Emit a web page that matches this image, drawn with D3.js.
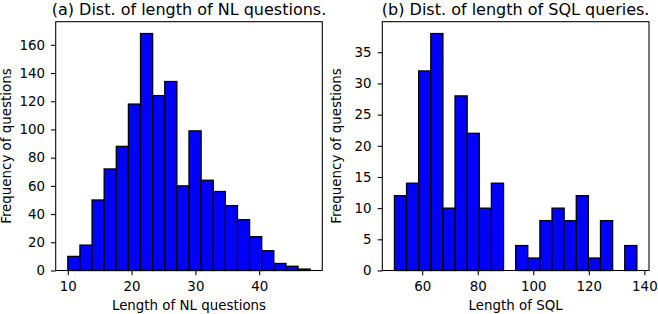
<!DOCTYPE html>
<html>
<head>
<meta charset="utf-8">
<script src="https://cdn.jsdelivr.net/npm/d3@7"></script>
<style>
  html, body { margin: 0; padding: 0; background: #fff; }
  svg { display: block; }
  text { font-family: "DejaVu Sans", sans-serif; fill: #000; }
</style>
</head>
<body>
<svg id="chart" width="658" height="314"></svg>
<script>
// ---- data ----
const nlRange = [10, 48];           // histogram range of NL question lengths
const nlCounts = [10, 18, 50, 72, 88, 118, 168, 124, 134, 60, 99, 64, 56, 46, 36, 24, 14, 5, 3, 1];
const nlXTicks = [10, 20, 30, 40];
const nlYTicks = [0, 20, 40, 60, 80, 100, 120, 140, 160];

const sqlRange = [50, 137.3];       // histogram range of SQL lengths
const sqlCounts = [12, 14, 32, 38, 10, 28, 22, 10, 14, 0, 4, 2, 8, 10, 8, 12, 2, 8, 0, 4];
const sqlXTicks = [60, 80, 100, 120, 140];
const sqlYTicks = [0, 5, 10, 15, 20, 25, 30, 35];

const titles = ["(a) Dist. of length of NL questions.", "(b) Dist. of length of SQL queries."];
const xLabels = ["Length of NL questions", "Length of SQL"];
const yLabel = "Frequency of questions";

// ---- layout ----
const svg = d3.select("#chart");
const plotTop = 21.7, plotBottom = 270.5;
const panels = [
  { left: 55.7, right: 322.3, range: nlRange, counts: nlCounts, xt: nlXTicks, yt: nlYTicks, title: titles[0], xl: xLabels[0], ylx: 11 },
  { left: 382.3, right: 649, range: sqlRange, counts: sqlCounts, xt: sqlXTicks, yt: sqlYTicks, title: titles[1], xl: xLabels[1], ylx: 341 }
];
const fs = 13.4;

panels.forEach(p => {
  const n = p.counts.length;
  const w = (p.range[1] - p.range[0]) / n;
  const bins = p.counts.map((c, i) => ({ x0: p.range[0] + i * w, x1: p.range[0] + (i + 1) * w, c }));
  const pad = (p.range[1] - p.range[0]) * 0.05;
  const x = d3.scaleLinear().domain([p.range[0] - pad, p.range[1] + pad]).range([p.left, p.right]);
  const ymax = d3.max(p.counts) * 1.05;
  const y = d3.scaleLinear().domain([0, ymax]).range([plotBottom, plotTop]);

  const g = svg.append("g");
  g.selectAll("rect.bar").data(bins.filter(b => b.c > 0)).join("rect")
    .attr("class", "bar")
    .attr("x", d => x(d.x0))
    .attr("width", d => x(d.x1) - x(d.x0))
    .attr("y", d => y(d.c))
    .attr("height", d => y(0) - y(d.c))
    .attr("fill", "#0000ff")
    .attr("stroke", "#000")
    .attr("stroke-width", 1.3);

  // frame
  g.append("rect")
    .attr("x", p.left).attr("y", plotTop)
    .attr("width", p.right - p.left).attr("height", plotBottom - plotTop)
    .attr("fill", "none").attr("stroke", "#000").attr("stroke-width", 1.07);

  const xa = g.append("g").attr("transform", `translate(0,${plotBottom})`)
    .call(d3.axisBottom(x).tickValues(p.xt).tickFormat(d3.format("d")).tickSize(4.7).tickPadding(6.3));
  const ya = g.append("g").attr("transform", `translate(${p.left},0)`)
    .call(d3.axisLeft(y).tickValues(p.yt).tickFormat(d3.format("d")).tickSize(4.7).tickPadding(6));
  [xa, ya].forEach(a => {
    a.select(".domain").remove();
    a.selectAll(".tick line").attr("stroke", "#000").attr("stroke-width", 1.07);
    a.selectAll(".tick text").attr("font-family", "DejaVu Sans").attr("font-size", fs).attr("fill", "#000");
  });

  const cx = (p.left + p.right) / 2;
  g.append("text").attr("x", cx).attr("y", 14.5).attr("text-anchor", "middle")
    .attr("font-size", 16).text(p.title);
  g.append("text").attr("x", cx).attr("y", 309.5).attr("text-anchor", "middle")
    .attr("font-size", fs).text(p.xl);
  g.append("text").attr("transform", `translate(${p.ylx},${(plotTop + plotBottom) / 2}) rotate(-90)`)
    .attr("text-anchor", "middle").attr("font-size", fs).text(yLabel);
});
</script>
</body>
</html>
